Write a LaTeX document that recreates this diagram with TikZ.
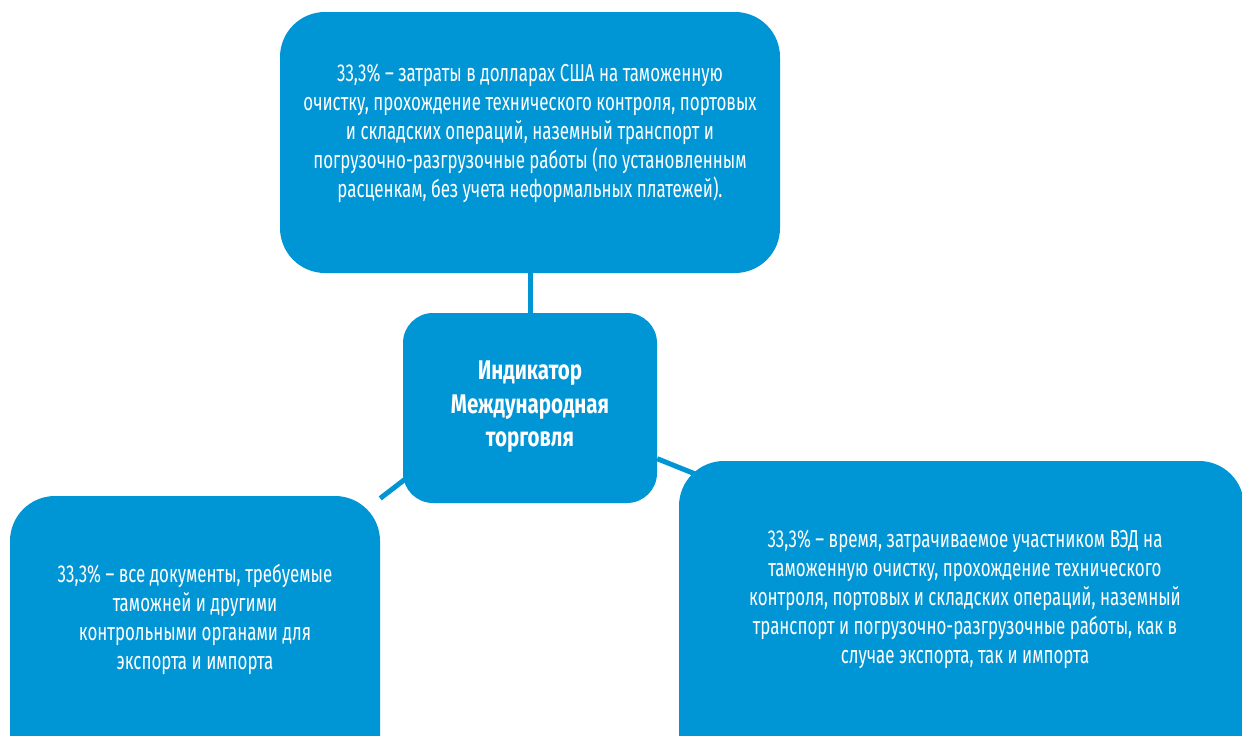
\documentclass[tikz,border=0pt]{standalone}
\usepackage{fontspec}
\setmainfont{Fira Sans}[FakeStretch=0.69]
\newfontfamily\titlefont{Fira Sans}[FakeStretch=0.76]
\usetikzlibrary{backgrounds,calc}
\definecolor{boxblue}{RGB}{0,150,214}
\tikzset{
  x=1pt, y=-1pt,
  bluebox/.style={fill=boxblue, draw=none, rounded corners=#1, inner sep=0pt},
  bodytext/.style={text=white, align=center, font=\fontsize{24.5}{29}\selectfont, inner sep=0pt},
  titletext/.style={text=white, align=center, font=\titlefont\fontsize{27}{33.5}\selectfont\bfseries, inner sep=0pt},
  link/.style={draw=boxblue, line width=5pt}
}
\begin{document}
\begin{tikzpicture}
\useasboundingbox (0,0) rectangle (1242,736);
\clip (0,0) rectangle (1242,736);
% boxes
\node[bluebox=45pt, minimum width=500pt, minimum height=261pt] (top) at (530,142.5) {};
\node[bluebox=30pt, minimum width=254pt, minimum height=190pt] (c) at (530,408) {};
\node[bluebox=45pt, minimum width=370pt, minimum height=288pt] (l) at (195,640) {};
\node[bluebox=45pt, minimum width=565pt, minimum height=320pt] (r) at (961.5,621) {};
% connectors
\begin{pgfonlayer}{background}
\draw[link] (c) -- (top);
\draw[link] ($(c.center)+(0,-25)$) -- (l);
\draw[link] (c) -- ($(r.center)+(0,-40)$);
\end{pgfonlayer}
% texts
\node[bodytext] (topt) at (530,133) {33,3\% – затраты в долларах США на таможенную\\очистку, прохождение технического контроля, портовых\\и складских операций, наземный транспорт и\\погрузочно-разгрузочные работы (по установленным\\расценкам, без учета неформальных платежей).};
\node[titletext] (ct) at (530,407) {Индикатор\\Международная\\торговля};
\node[bodytext] (lt) at (195,619) {33,3\% – все документы, требуемые\\таможней и другими\\контрольными органами для\\экспорта и импорта};
\node[bodytext] (rt) at (965,599) {33,3\% – время, затрачиваемое участником ВЭД на\\таможенную очистку, прохождение технического\\контроля, портовых и складских операций, наземный\\транспорт и погрузочно-разгрузочные работы, как в\\случае экспорта, так и импорта};
\end{tikzpicture}
\end{document}
